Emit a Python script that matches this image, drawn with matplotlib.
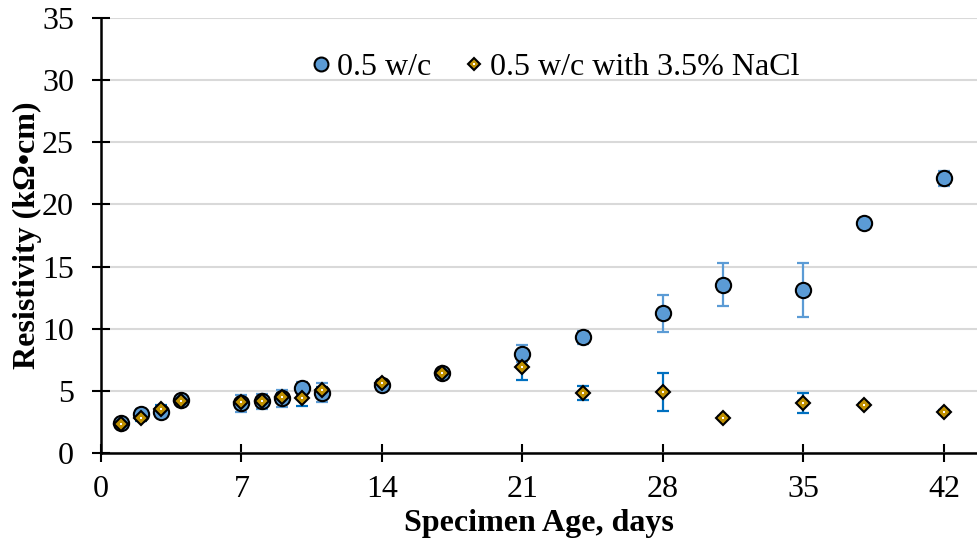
#Resistivity vs specimen age

#import libraries
import matplotlib
matplotlib.use('Agg')
import matplotlib.pyplot as plt

#data
days = [1, 2, 3, 4, 7, 8, 9, 10, 11, 14, 17, 21, 24, 28, 31, 35, 38, 42]
plain = [2.45, 3.15, 3.3, 4.25, 4.0, 4.15, 4.4, 5.2, 4.85, 5.5, 6.45, 8.0, 9.3, 11.25, 13.55, 13.1, 18.5, 22.1]
plain_err = [0.2, 0.35, 0.4, 0.2, 0.7, 0.6, 0.7, 0.55, 0.75, 0.3, 0.3, 0.7, 0.55, 1.5, 1.75, 2.15, 0.15, 0.6]
salt = [2.35, 2.85, 3.55, 4.15, 4.1, 4.2, 4.5, 4.45, 5.1, 5.65, 6.45, 6.95, 4.85, 4.9, 2.85, 4.05, 3.9, 3.3]
salt_err = [0.15, 0.3, 0.3, 0.15, 0.2, 0.2, 0.3, 0.65, 0.2, 0.2, 0.2, 1.05, 0.55, 1.5, 0.1, 0.8, 0.1, 0.15]

x_ticks = [0, 7, 14, 21, 28, 35, 42]
y_ticks = [0, 5, 10, 15, 20, 25, 30, 35]

plt.rcParams['font.family'] = ['Liberation Serif', 'DejaVu Serif']

fig = plt.figure(figsize=(9.77, 5.41), dpi=100)
ax = fig.add_axes([0.1034, 0.1627, 0.8966, 0.804])

#error bars first, markers on top
ax.errorbar(days, plain, yerr=plain_err, fmt='none', ecolor='#5B9BD5',
            elinewidth=1.6, capsize=4, capthick=1.6, zorder=2)
ax.errorbar(days, salt, yerr=salt_err, fmt='none', ecolor='#0070C0',
            elinewidth=1.6, capsize=4, capthick=1.6, zorder=3)
ax.plot(days, plain, 'o', color='#5B9BD5', markeredgecolor='black',
        markeredgewidth=1.5, markersize=11, zorder=4)
ax.plot(days, salt, 'D', color='#BF9000', markeredgecolor='black',
        markeredgewidth=1.5, markersize=7.6, zorder=5)
#small white dot in the middle of each diamond
ax.plot(days, salt, 's', color='white', markersize=2, markeredgewidth=0, zorder=6)

#legend handles
salt_handle = (
    plt.Line2D([], [], marker='D', linestyle='none', color='#BF9000',
               markeredgecolor='black', markeredgewidth=1.5, markersize=6.5),
    plt.Line2D([], [], marker='s', linestyle='none', color='white',
               markersize=2, markeredgewidth=0),
)
plain_handle = plt.Line2D([], [], marker='o', linestyle='none', color='#5B9BD5',
                          markeredgecolor='black', markeredgewidth=1.5, markersize=10)
ax.legend([plain_handle, salt_handle], ['0.5 w/c', '0.5 w/c with 3.5% NaCl'],
          loc='center', bbox_to_anchor=(0.515, 0.886), ncol=2, frameon=False,
          fontsize=23, handletextpad=0.0, columnspacing=0.85, handlelength=1.0)

#axes
ax.set_xlim(0, 43.65)
ax.set_ylim(0, 35)
ax.set_xticks(x_ticks)
ax.set_yticks(y_ticks)
ax.tick_params(axis='both', direction='inout', length=13, width=1.5, labelsize=23,
               color='black')
ax.tick_params(axis='x', pad=9)
ax.tick_params(axis='y', pad=13)
ax.grid(axis='y', color='#D9D9D9', linewidth=1.5, zorder=0)
ax.set_axisbelow(True)
for side in ['top', 'right']:
    ax.spines[side].set_visible(False)
for side in ['left', 'bottom']:
    ax.spines[side].set_linewidth(1.8)

#labels
ax.set_xlabel('Specimen Age, days', fontsize=23, fontweight='bold', labelpad=4)
ax.set_ylabel('Resistivity (k\u03a9\u2022cm)', fontsize=23, fontweight='bold', va='center')
ax.yaxis.set_label_coords(-0.084, 0.5)

fig.savefig('out.png', dpi=100)
